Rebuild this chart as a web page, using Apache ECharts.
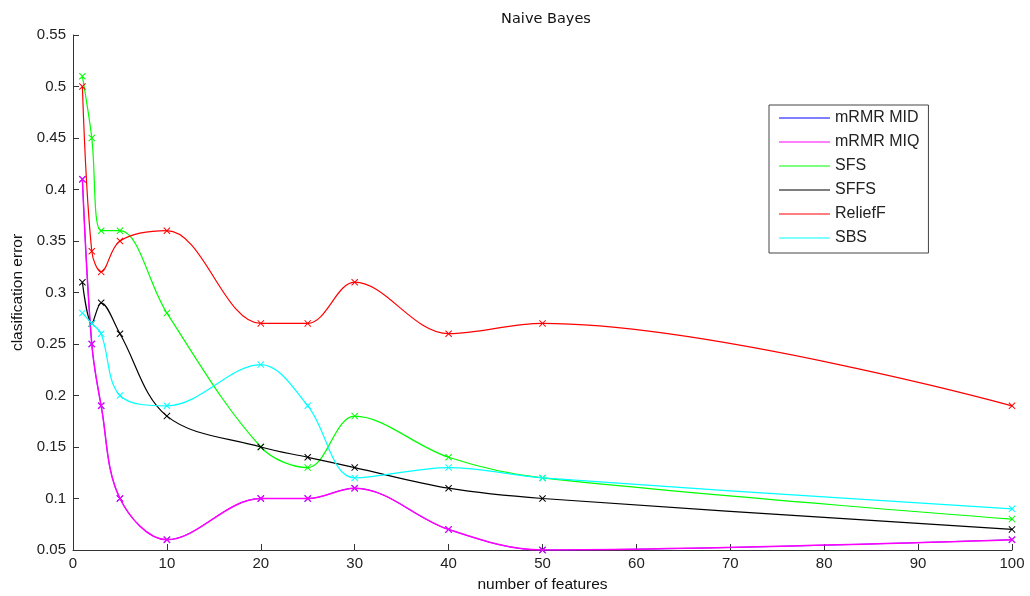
<!DOCTYPE html>
<html><head><meta charset="utf-8">
<script src="https://cdn.jsdelivr.net/npm/echarts@6/dist/echarts.min.js"></script>
<style>html,body{margin:0;padding:0;background:#fff}#c{width:1030px;height:596px}</style>
</head><body><div id="c"></div>
<script>
const features = [1, 2, 3, 5, 10, 20, 25, 30, 40, 50, 100];
const mrmrMID = [0.41, 0.25, 0.19, 0.10, 0.06, 0.10, 0.10, 0.11, 0.07, 0.05, 0.06];
const mrmrMIQ = [0.41, 0.25, 0.19, 0.10, 0.06, 0.10, 0.10, 0.11, 0.07, 0.05, 0.06];
const sfs     = [0.51, 0.45, 0.36, 0.36, 0.28, 0.15, 0.13, 0.18, 0.14, 0.12, 0.08];
const sffs    = [0.31, 0.27, 0.29, 0.26, 0.18, 0.15, 0.14, 0.13, 0.11, 0.10, 0.07];
const relieff = [0.50, 0.34, 0.32, 0.35, 0.36, 0.27, 0.27, 0.31, 0.26, 0.27, 0.19];
const sbs     = [0.28, 0.27, 0.26, 0.20, 0.19, 0.23, 0.19, 0.12, 0.13, 0.12, 0.09];
const seriesNames = ['mRMR MID', 'mRMR MIQ', 'SFS', 'SFFS', 'ReliefF', 'SBS'];
const seriesData = [mrmrMID, mrmrMIQ, sfs, sffs, relieff, sbs];
const colors = ['#0000ff', '#ff00ff', '#00ff00', '#000000', '#ff0000', '#00ffff'];
const lineWidths = [0.8, 1.5, 1.2, 1.2, 1.2, 1.2];

const xMark = 'path://M0,1L1,0L5,4L9,0L10,1L6,5L10,9L9,10L5,6L1,10L0,9L4,5Z';
const font = 'Arial, "Liberation Sans", sans-serif';

const chart = echarts.init(document.getElementById('c'), null, {renderer: 'canvas'});
chart.setOption({
  animation: false,
  backgroundColor: '#fff',
  color: colors,
  title: {
    text: 'Naive Bayes', left: 541, textAlign: 'center', top: 7,
    textStyle: {fontSize: 14.5, fontWeight: 'normal', color: '#111', fontFamily: '"DejaVu Sans", sans-serif'}
  },
  legend: {
    orient: 'vertical', left: 769, top: 105,
    padding: [5, 9, 7, 10],
    itemWidth: 51, itemHeight: 14, itemGap: 8,
    borderColor: '#444', borderWidth: 1,
    icon: 'path://M0,0L100,0L100,2L0,2Z',
    textStyle: {fontSize: 16, lineHeight: 16, color: '#222', fontFamily: font},
    data: seriesNames
  },
  grid: {left: 73, right: 18, top: 35, bottom: 46, outerBoundsMode: 'none', containLabel: false},
  xAxis: {
    type: 'value', min: 0, max: 100, interval: 10,
    name: 'number of features', nameLocation: 'middle', nameGap: 27,
    nameTextStyle: {fontSize: 15.5, color: '#111', fontFamily: font},
    axisLine: {lineStyle: {color: '#333', width: 1}},
    axisTick: {inside: true, length: 6, lineStyle: {color: '#333'}},
    axisLabel: {fontSize: 15, color: '#222', fontFamily: font, margin: 6},
    splitLine: {show: false}
  },
  yAxis: {
    type: 'value', min: 0.05, max: 0.55, interval: 0.05,
    name: 'clasification error', nameLocation: 'middle', nameGap: 46, nameRotate: 90,
    nameTextStyle: {fontSize: 15.5, color: '#111', fontFamily: font},
    axisLine: {show: true, lineStyle: {color: '#333', width: 1}},
    axisTick: {show: true, inside: true, length: 6, lineStyle: {color: '#333'}},
    axisLabel: {fontSize: 15, color: '#222', fontFamily: font, margin: 7,
      formatter: v => String(parseFloat(v.toFixed(2)))},
    splitLine: {show: false}
  },
  series: seriesNames.map((n, i) => ({
    name: n, type: 'line',
    data: features.map((x, j) => [x, seriesData[i][j]]),
    smooth: 0.35,
    symbol: xMark, symbolSize: 7, showSymbol: true,
    lineStyle: {width: lineWidths[i], color: colors[i]},
    itemStyle: {color: colors[i]},
    z: 2 + i
  }))
});
</script></body></html>
